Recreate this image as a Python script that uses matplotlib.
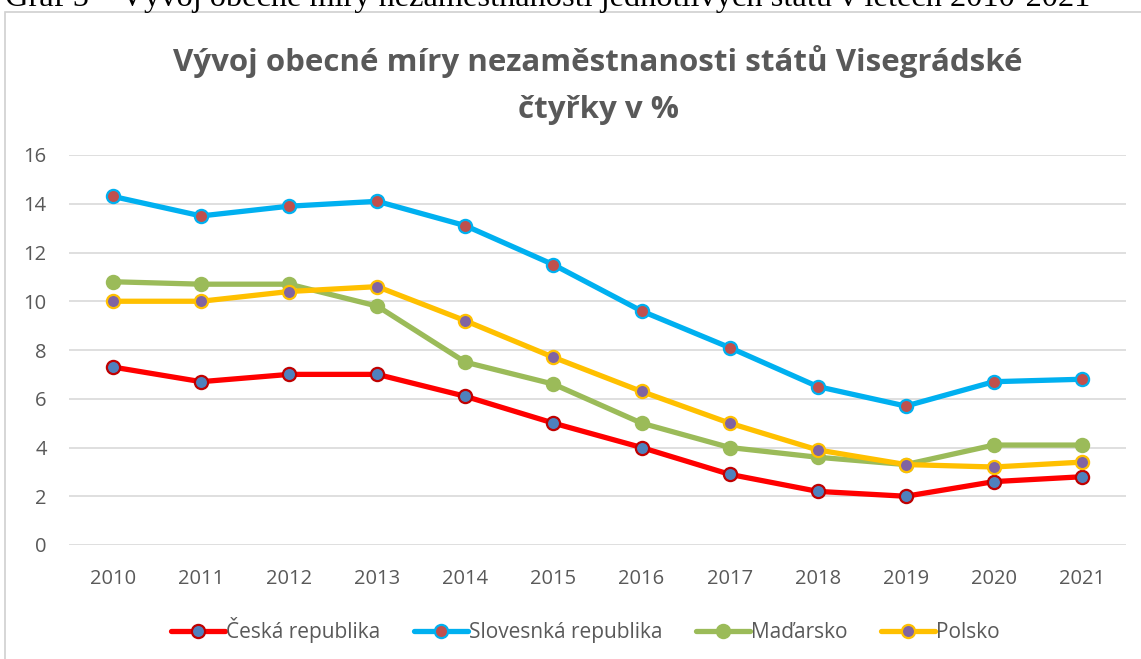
#!/usr/bin/env python3
"""
Unemployment rate of the Visegrad Four countries, 2010-2021 (line chart).
"""

import matplotlib
matplotlib.use('Agg')
import matplotlib.pyplot as plt
from matplotlib.patches import Rectangle

# ── Data ───────────────────────────────────────────────────────────────
years = ['2010', '2011', '2012', '2013', '2014', '2015',
         '2016', '2017', '2018', '2019', '2020', '2021']

cz = [7.3, 6.7, 7.0, 7.0, 6.1, 5.0, 4.0, 2.9, 2.2, 2.0, 2.6, 2.8]
sk = [14.3, 13.5, 13.9, 14.1, 13.1, 11.5, 9.6, 8.1, 6.5, 5.7, 6.7, 6.8]
hu = [10.8, 10.7, 10.7, 9.8, 7.5, 6.6, 5.0, 4.0, 3.6, 3.3, 4.1, 4.1]
pl = [10.0, 10.0, 10.4, 10.6, 9.2, 7.7, 6.3, 5.0, 3.9, 3.3, 3.2, 3.4]

series_names = ['Česká republika', 'Slovesnká republika', 'Maďarsko', 'Polsko']

# (line colour, marker face, marker edge)
styles = [
    ('#FF0000', '#4F81BD', '#C00000'),
    ('#00B0F0', '#C0504D', '#00B0F0'),
    ('#9BBB59', '#9BBB59', '#9BBB59'),
    ('#FFC000', '#8064A2', '#FFC000'),
]

TEXT_GREY = '#595959'
GRID_GREY = '#D9D9D9'

plt.rcParams['font.family'] = ['Open Sans', 'DejaVu Sans']

# ── Figure ─────────────────────────────────────────────────────────────
W, H = 1141, 659
fig = plt.figure(figsize=(W / 100, H / 100), dpi=100)

# caption of the document, cut off at the top edge
fig.text(5 / W, 1 - 6 / H,
         'Graf 5 – Vývoj obecné míry nezaměstnanosti jednotlivých států v letech 2010-2021',
         family=['Liberation Serif'], fontsize=23.3, color='black',
         ha='left', va='baseline')

# chart frame
fig.patches.append(Rectangle((5 / W, -0.1), 1.2, 1 - 12 / H + 0.1,
                             transform=fig.transFigure, fill=False,
                             edgecolor='#D0D0D0', linewidth=1.2))

ax = fig.add_axes([69 / W, 1 - 545 / H, (1126 - 69) / W, 390 / H])

x = range(len(years))
for vals, name, (lc, fc, ec) in zip([cz, sk, hu, pl], series_names, styles):
    ax.plot(x, vals, color=lc, linewidth=3.8, marker='o', markersize=9.5,
            markerfacecolor=fc, markeredgecolor=ec, markeredgewidth=1.6,
            label=name, zorder=3, solid_capstyle='round')

ax.set_xlim(-0.5, len(years) - 0.5)
ax.set_ylim(0, 16)
ax.set_yticks(range(0, 17, 2))
ax.set_xticks(list(x))
ax.set_xticklabels(years)

ax.grid(axis='y', color=GRID_GREY, linewidth=1.2)
ax.set_axisbelow(True)
for s in ax.spines.values():
    s.set_visible(False)
ax.tick_params(length=0, colors=TEXT_GREY, labelsize=14.5)
ax.tick_params(axis='y', pad=16)
ax.tick_params(axis='x', pad=17)

fig.text(598 / W, 1 - 62 / H, 'Vývoj obecné míry nezaměstnanosti států Visegrádské',
         fontsize=22.5, fontweight='bold', color=TEXT_GREY, ha='center', va='center')
fig.text(598 / W, 1 - 110 / H, 'čtyřky v %',
         fontsize=22.5, fontweight='bold', color=TEXT_GREY, ha='center', va='center')

leg = fig.legend(loc='center', bbox_to_anchor=(0.513, 1 - 630 / H), ncol=4,
                 frameon=False, fontsize=15, handlelength=2.6,
                 handletextpad=0.05, columnspacing=1.6)
for t in leg.get_texts():
    t.set_color(TEXT_GREY)

fig.savefig('out.png', dpi=100)
plt.close(fig)
